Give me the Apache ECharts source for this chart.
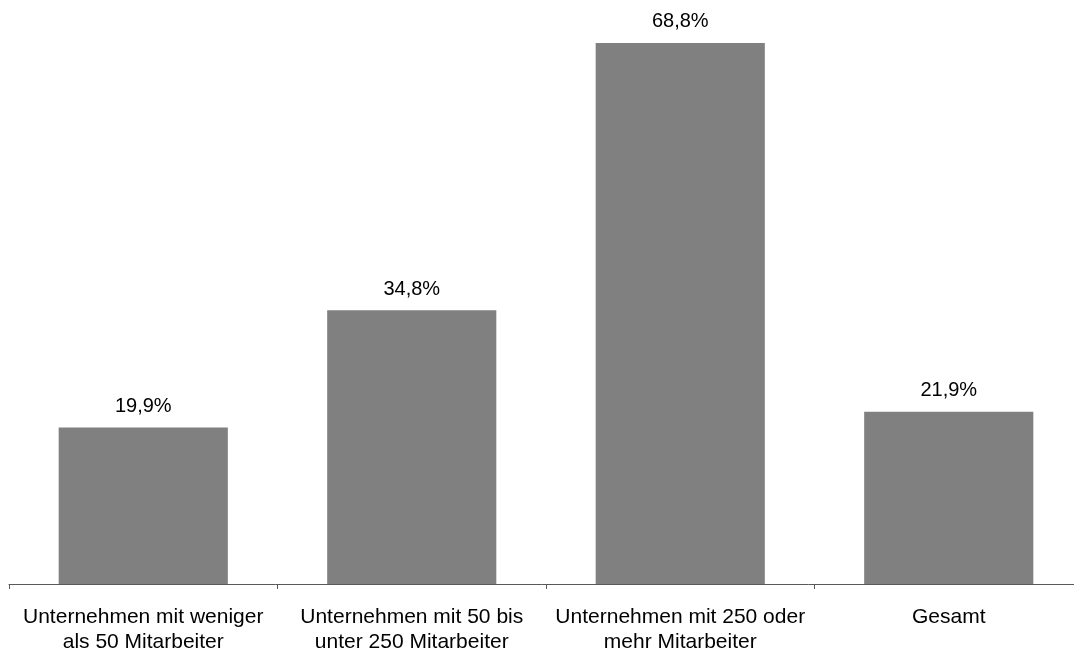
<!DOCTYPE html>
<html>
<head>
<meta charset="utf-8">
<script src="https://cdn.jsdelivr.net/npm/echarts@6/dist/echarts.min.js"></script>
<style>
  html, body { margin: 0; padding: 0; background: #fff; }
  #chart { width: 1074px; height: 649px; }
</style>
</head>
<body>
<div id="chart"></div>
<script>
// Anteil der Unternehmen nach Größenklasse (in %)
const categories = [
  'Unternehmen mit weniger\nals 50 Mitarbeiter',
  'Unternehmen mit 50 bis\nunter 250 Mitarbeiter',
  'Unternehmen mit 250 oder\nmehr Mitarbeiter',
  'Gesamt'
];
const values = [19.9, 34.8, 68.8, 21.9];

const chart = echarts.init(document.getElementById('chart'), null, { renderer: 'canvas' });

chart.setOption({
  animation: false,
  backgroundColor: '#ffffff',
  textStyle: { fontFamily: '"Liberation Sans", Arial, sans-serif' },
  grid: {
    left: 9, right: -9, top: 33.5, bottom: 65,
    containLabel: false,
    outerBoundsMode: 'none'
  },
  xAxis: {
    type: 'category',
    data: categories,
    axisLine: { show: true, lineStyle: { color: '#595959', width: 1 } },
    axisTick: { show: true, length: 5, lineStyle: { color: '#595959', width: 1 } },
    axisLabel: {
      interval: 0,
      color: '#000',
      fontSize: 21,
      lineHeight: 25,
      margin: 21,
      fontFamily: '"Liberation Sans", Arial, sans-serif'
    }
  },
  yAxis: {
    type: 'value',
    min: 0,
    max: 70,
    show: false,
    splitLine: { show: false }
  },
  series: [{
    type: 'bar',
    data: values,
    barWidth: '63%',
    itemStyle: { color: '#808080' },
    label: {
      show: true,
      position: 'top',
      distance: 11,
      color: '#000',
      fontSize: 20,
      fontFamily: '"Liberation Sans", Arial, sans-serif',
      formatter: p => p.value.toFixed(1).replace('.', ',') + '%'
    }
  }]
});
</script>
</body>
</html>
